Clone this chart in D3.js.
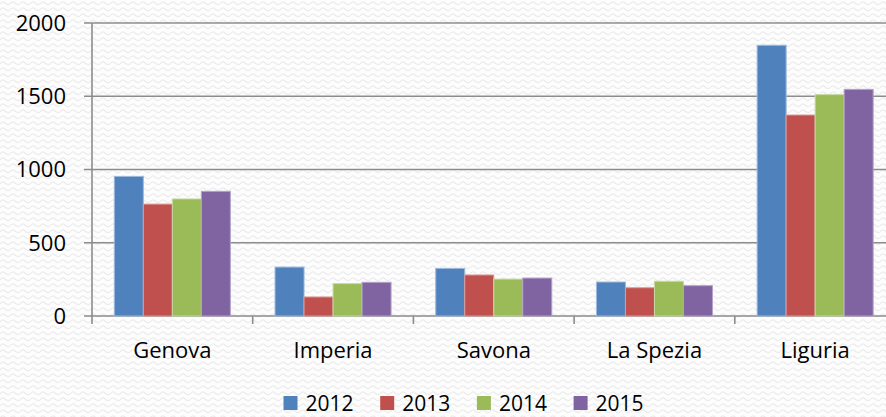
<!DOCTYPE html>
<html>
<head>
<meta charset="utf-8">
<script src="https://cdn.jsdelivr.net/npm/d3@7"></script>
<style>
  html, body { margin: 0; padding: 0; background: #fff; }
  svg { display: block; }
  text { font-family: "Open Sans", sans-serif; fill: #000; }
</style>
</head>
<body>
<div id="chart"></div>
<script>
// Data - - - - - - - - - - - - - - - - - - - - - - - - - - - - - - - - -
var provinces = ["Genova", "Imperia", "Savona", "La Spezia", "Liguria"]
var years = ["2012", "2013", "2014", "2015"]
var v2012 = [953, 334, 325, 232, 1848]
var v2013 = [764, 130, 280, 193, 1372]
var v2014 = [799, 221, 252, 237, 1511]
var v2015 = [851, 230, 259, 207, 1547]
var yTicks = [0, 500, 1000, 1500, 2000]
var colors = ["#4F81BD", "#C0504D", "#9BBB59", "#8064A2"]
var edges = ["#9DB9DC", "#DA9C9A", "#C6D9A4", "#B3A2C8"]

var series = [v2012, v2013, v2014, v2015]

// Canvas - - - - - - - - - - - - - - - - - - - - - - - - - - - - - - - -
var svgWidth = 886
  , svgHeight = 417
  , plotLeft = 92
  , plotRight = 895.5
  , plotTop = 23
  , plotBottom = 316

var svg = d3.select("#chart").append("svg")
    .attr("width", svgWidth)
    .attr("height", svgHeight)

// faint wavy background texture
var defs = svg.append("defs")
var pat = defs.append("pattern")
    .attr("id", "wave")
    .attr("patternUnits", "userSpaceOnUse")
    .attr("width", 10)
    .attr("height", 6)
pat.append("rect").attr("width", 10).attr("height", 6).attr("fill", "#fdfdfd")
pat.append("path")
    .attr("d", "M0,4 Q2.5,0.5 5,3 T10,4")
    .attr("fill", "none")
    .attr("stroke", "#ececec")
    .attr("stroke-width", 1.2)

svg.append("rect")
    .attr("width", svgWidth)
    .attr("height", svgHeight)
    .attr("fill", "url(#wave)")

// Scales
var x0 = d3.scaleBand()
    .domain(provinces)
    .range([plotLeft, plotRight])
    .paddingInner(0)
    .paddingOuter(0)

var x1 = d3.scaleBand()
    .domain(years)
    .range([0, x0.bandwidth()])
    .paddingOuter(0.77)
    .paddingInner(0)

var y = d3.scaleLinear()
    .domain([0, 2000])
    .range([plotBottom, plotTop])

// Gridlines + y tick marks
svg.append("g")
    .selectAll("line")
    .data(yTicks)
    .enter()
    .append("line")
    .attr("x1", plotLeft - 8)
    .attr("x2", plotRight)
    .attr("y1", d => y(d))
    .attr("y2", d => y(d))
    .attr("stroke", "#8c8c8c")
    .attr("stroke-width", 1.6)

// y labels
svg.append("g")
    .selectAll("text")
    .data(yTicks)
    .enter()
    .append("text")
    .attr("x", 66)
    .attr("y", d => y(d))
    .attr("dy", "0.36em")
    .attr("text-anchor", "end")
    .style("font-size", "22px")
    .text(d => d)

// y axis line
svg.append("line")
    .attr("x1", plotLeft).attr("x2", plotLeft)
    .attr("y1", plotTop).attr("y2", plotBottom + 8)
    .attr("stroke", "#8c8c8c")
    .attr("stroke-width", 1.6)

// category boundary ticks
svg.append("g")
    .selectAll("line")
    .data(provinces.slice(1))
    .enter()
    .append("line")
    .attr("x1", d => x0(d))
    .attr("x2", d => x0(d))
    .attr("y1", plotBottom)
    .attr("y2", plotBottom + 8)
    .attr("stroke", "#8c8c8c")
    .attr("stroke-width", 1.6)

// Bars
var groups = svg.append("g")
    .selectAll("g")
    .data(provinces)
    .enter()
    .append("g")
    .attr("transform", d => "translate(" + x0(d) + ",0)")

groups.selectAll("rect")
    .data((d, i) => years.map((yr, j) => ({year: yr, j: j, value: series[j][i]})))
    .enter()
    .append("rect")
    .attr("x", d => x1(d.year))
    .attr("width", x1.bandwidth())
    .attr("y", d => y(d.value))
    .attr("height", d => plotBottom - y(d.value))
    .attr("fill", d => colors[d.j])
    .attr("stroke", d => edges[d.j])
    .attr("stroke-width", 1)

// x labels
svg.append("g")
    .selectAll("text")
    .data(provinces)
    .enter()
    .append("text")
    .attr("x", d => x0(d) + x0.bandwidth() / 2)
    .attr("y", 358)
    .attr("text-anchor", "middle")
    .style("font-size", "22px")
    .text(d => d)

// Legend
var legend = svg.append("g")
    .selectAll("g")
    .data(years)
    .enter()
    .append("g")
    .attr("transform", (d, i) => "translate(" + (283.5 + i * 96.7) + ",396)")

legend.append("rect")
    .attr("width", 14)
    .attr("height", 14)
    .attr("fill", (d, i) => colors[i])

legend.append("text")
    .attr("x", 22)
    .attr("y", 14.5)
    .style("font-size", "21px")
    .text(d => d)
</script>
</body>
</html>
